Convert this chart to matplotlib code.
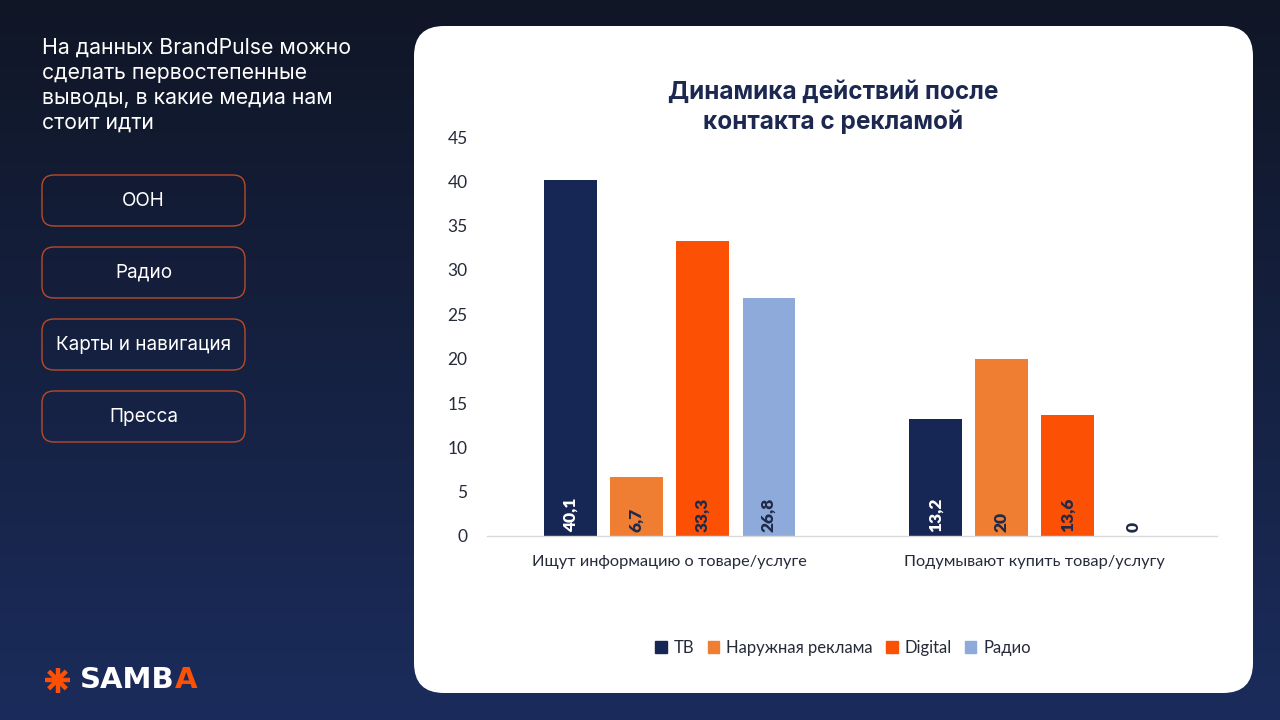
import numpy as np
import matplotlib.pyplot as plt
from matplotlib.patches import FancyBboxPatch, Patch

# data
categories = ['Ищут информацию о товаре/услуге', 'Подумывают купить товар/услугу']
series = ['ТВ', 'Наружная реклама', 'Digital', 'Радио']
values = {
    'ТВ': [40.1, 13.2],
    'Наружная реклама': [6.7, 20],
    'Digital': [33.3, 13.6],
    'Радио': [26.8, 0],
}
colors = {'ТВ': '#172755', 'Наружная реклама': '#ef7d32', 'Digital': '#fc5004', 'Радио': '#8eaadb'}
label_colors = {'ТВ': 'white', 'Наружная реклама': '#1f2a4a', 'Digital': '#1f2a4a', 'Радио': '#1f2a4a'}
buttons = ['OOH', 'Радио', 'Карты и навигация', 'Пресса']
intro = 'На данных BrandPulse можно\nсделать первостепенные\nвыводы, в какие медиа нам\nстоит идти'
title = 'Динамика действий после\nконтакта с рекламой'

W, H = 1280, 720
fig = plt.figure(figsize=(W / 100, H / 100), dpi=100)

# background in pixel coordinates
bg = fig.add_axes([0, 0, 1, 1])
bg.set_xlim(0, W)
bg.set_ylim(H, 0)
bg.axis('off')
grad = np.linspace(0, 1, 256).reshape(-1, 1)
top = np.array([0x10, 0x16, 0x26]) / 255
bot = np.array([0x1b, 0x2c, 0x5c]) / 255
img = top + (bot - top) * grad[..., None]
bg.imshow(img, extent=[0, W, H, 0], aspect='auto', zorder=0)

# white card
card = FancyBboxPatch((414, 26), 839, 667, boxstyle='round,pad=0,rounding_size=30',
                      fc='white', ec='none', zorder=1)
bg.add_patch(card)

# left text
bg.text(42, 38, intro, color='white', fontsize=15.3, family='Inter', va='top', ha='left',
        linespacing=1.3, zorder=2)

for i, b in enumerate(buttons):
    y0 = 175 + i * 72
    bg.add_patch(FancyBboxPatch((42, y0), 203, 51, boxstyle='round,pad=0,rounding_size=12',
                                fc='none', ec='#b94a28', lw=1.0, zorder=2))
    bg.text(143.5, y0 + 26, b, color='white', fontsize=13.6, family='Inter',
            ha='center', va='center', zorder=2)

# logo
cx, cy, r = 57.5, 680, 12.5
for a in np.arange(0, 180, 45):
    t = np.deg2rad(a + 90)
    bg.plot([cx - r * np.cos(t), cx + r * np.cos(t)], [cy - r * np.sin(t), cy + r * np.sin(t)],
            color='#fc5004', lw=3.2, solid_capstyle='butt', zorder=2)
samb = bg.text(80, 680, 'SAMB', color='white', fontsize=21, family='DejaVu Sans', weight='bold',
               ha='left', va='center', zorder=3)
fig.canvas.draw()
bb = samb.get_window_extent().transformed(bg.transData.inverted())
bg.text(bb.x1, 680, 'A', color='#fc5004', fontsize=21, family='DejaVu Sans', weight='bold',
        ha='left', va='center', zorder=3)

# title
bg.text(833, 107, title, color='#1c2850', fontsize=17.5, family='Inter', weight='bold',
        ha='center', va='center', linespacing=1.3, zorder=2)

# chart
ax = fig.add_axes([487 / W, (H - 536) / H, 730 / W, (536 - 137) / H])
ax.set_facecolor('none')
x = np.arange(len(categories))
width = 0.143
step = 0.181
for j, s in enumerate(series):
    pos = x + (j - 1.5) * step
    ax.bar(pos, values[s], width, color=colors[s], zorder=2)
    for p, v in zip(pos, values[s]):
        lab = ('%g' % v).replace('.', ',')
        ax.text(p, 0.4, lab, rotation=90, ha='center', va='bottom', color=label_colors[s],
                fontsize=12.5, family='Lato', weight='heavy', zorder=3)

ax.set_xlim(-0.5, 1.5)
ax.set_ylim(0, 45)
ax.set_yticks(np.arange(0, 46, 5))
ax.set_xticks(x)
ax.set_xticklabels(categories)
for sp in ['top', 'right', 'left']:
    ax.spines[sp].set_visible(False)
ax.spines['bottom'].set_color('#d9d9d9')
ax.spines['bottom'].set_linewidth(1)
ax.tick_params(axis='y', length=0, labelsize=12.5, labelcolor='#262b3a', pad=14)
ax.tick_params(axis='x', length=0, labelsize=11.8, labelcolor='#262b3a', pad=14)
for t in ax.get_xticklabels() + ax.get_yticklabels():
    t.set_family('Lato')

handles = [Patch(color=colors[s], label=s) for s in series]
fig.legend(handles=handles, loc='center', bbox_to_anchor=(843 / W, (H - 648) / H), ncol=4,
           frameon=False, handlelength=0.7, handleheight=0.7, handletextpad=0.4,
           columnspacing=0.8, prop={'family': 'Lato', 'size': 12}, labelcolor='#262b3a')

fig.savefig('out.png', dpi=100)
